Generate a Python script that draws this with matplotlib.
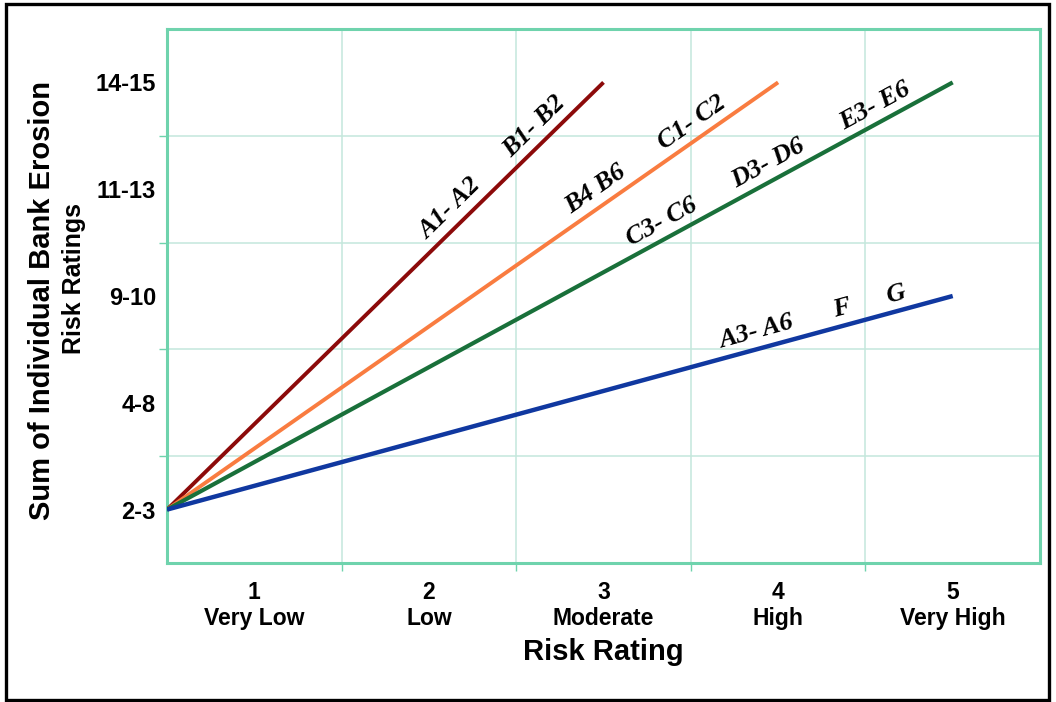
import numpy as np
import matplotlib
matplotlib.use("Agg")
import matplotlib.pyplot as plt
from matplotlib.patches import Rectangle

# ---- data ----
x_categories = ["1\nVery Low", "2\nLow", "3\nModerate", "4\nHigh", "5\nVery High"]
y_categories = ["2-3", "4-8", "9-10", "11-13", "14-15"]

red_x = [0.5, 3.0]
red_y = [1.0, 5.0]
orange_x = [0.5, 4.0]
orange_y = [1.0, 5.0]
green_x = [0.5, 5.0]
green_y = [1.0, 5.0]
blue_x = [0.5, 5.0]
blue_y = [1.0, 3.0]

red_labels = ["A1- A2", "B1- B2"]
red_label_x = [2.19, 2.67]
orange_labels = ["B4 B6", "C1- C2"]
orange_label_x = [3.01, 3.56]
green_labels = ["C3- C6", "D3- D6", "E3- E6"]
green_label_x = [3.38, 3.99, 4.60]
blue_labels = ["A3- A6", "F", "G"]
blue_label_x = [3.90, 4.39, 4.70]

# ---- style ----
SANS = ["Liberation Sans", "DejaVu Sans"]
SERIF = ["Liberation Serif", "DejaVu Serif"]
spine_c = "#6fd3ad"
grid_c = "#c4e7dc"

fig = plt.figure(figsize=(10.56, 7.02), dpi=100)
fig.patch.set_facecolor("white")
ax = fig.add_axes([167 / 1056, 139 / 702, 873 / 1056, 534 / 702])
ax.set_xlim(0.5, 5.5)
ax.set_ylim(0.5, 5.5)

ax.set_xticks(np.arange(1, 6))
ax.set_yticks(np.arange(1, 6))
ax.set_xticks(np.arange(1.5, 5.5, 1), minor=True)
ax.set_yticks(np.arange(1.5, 5.5, 1), minor=True)
ax.set_xticklabels(x_categories, fontsize=16.5, fontweight="bold", family=SANS, linespacing=1.15)
ax.set_yticklabels(y_categories, fontsize=17, fontweight="bold", family=SANS)
ax.tick_params(which="major", length=0)
ax.tick_params(axis="x", which="major", pad=13)
ax.tick_params(axis="y", which="major", pad=8)
ax.tick_params(which="minor", length=6, width=1, color=spine_c, direction="out")
ax.grid(which="minor", color=grid_c, lw=1.1)
ax.grid(which="major", visible=False)
ax.set_axisbelow(True)
for s in ax.spines.values():
    s.set_color(spine_c)
    s.set_linewidth(2.2)

series = [
    (red_x, red_y, "#8c0a0a", 2.8, red_labels, red_label_x),
    (orange_x, orange_y, "#f97c40", 2.8, orange_labels, orange_label_x),
    (green_x, green_y, "#19703a", 3.0, green_labels, green_label_x),
    (blue_x, blue_y, "#1038a0", 3.2, blue_labels, blue_label_x),
]

for xs, ys, c, lw, labs, lx in series:
    ax.plot(xs, ys, color=c, lw=lw, solid_capstyle="butt", zorder=3)

fig.canvas.draw()
for xs, ys, c, lw, labs, lx in series:
    p0 = ax.transData.transform((xs[0], ys[0]))
    p1 = ax.transData.transform((xs[1], ys[1]))
    ang = np.degrees(np.arctan2(p1[1] - p0[1], p1[0] - p0[0]))
    a = np.radians(ang)
    off = 12
    for t, x in zip(labs, lx):
        y = np.interp(x, xs, ys)
        ax.annotate(t, xy=(x, y), xytext=(-np.sin(a) * off, np.cos(a) * off),
                    textcoords="offset points", rotation=ang, rotation_mode="anchor",
                    ha="center", va="center", fontsize=19, fontweight="bold",
                    fontstyle="italic", family=SERIF, color="black", zorder=4)

fig.text(603 / 1056, 1 - 652 / 702, "Risk Rating", ha="center", va="center",
         fontsize=21, fontweight="bold", family=SANS)
fig.text(42 / 1056, 1 - 300 / 702, "Sum of Individual Bank Erosion", ha="center", va="center",
         rotation=90, fontsize=21, fontweight="bold", family=SANS)
fig.text(74 / 1056, 1 - 278 / 702, "Risk Ratings", ha="center", va="center",
         rotation=90, fontsize=18, fontweight="bold", family=SANS)

fig.add_artist(Rectangle((6 / 1056, 2 / 702), 1043 / 1056, 696 / 702, transform=fig.transFigure,
                         fill=False, ec="black", lw=2.4))

fig.savefig("out.png", dpi=100)
